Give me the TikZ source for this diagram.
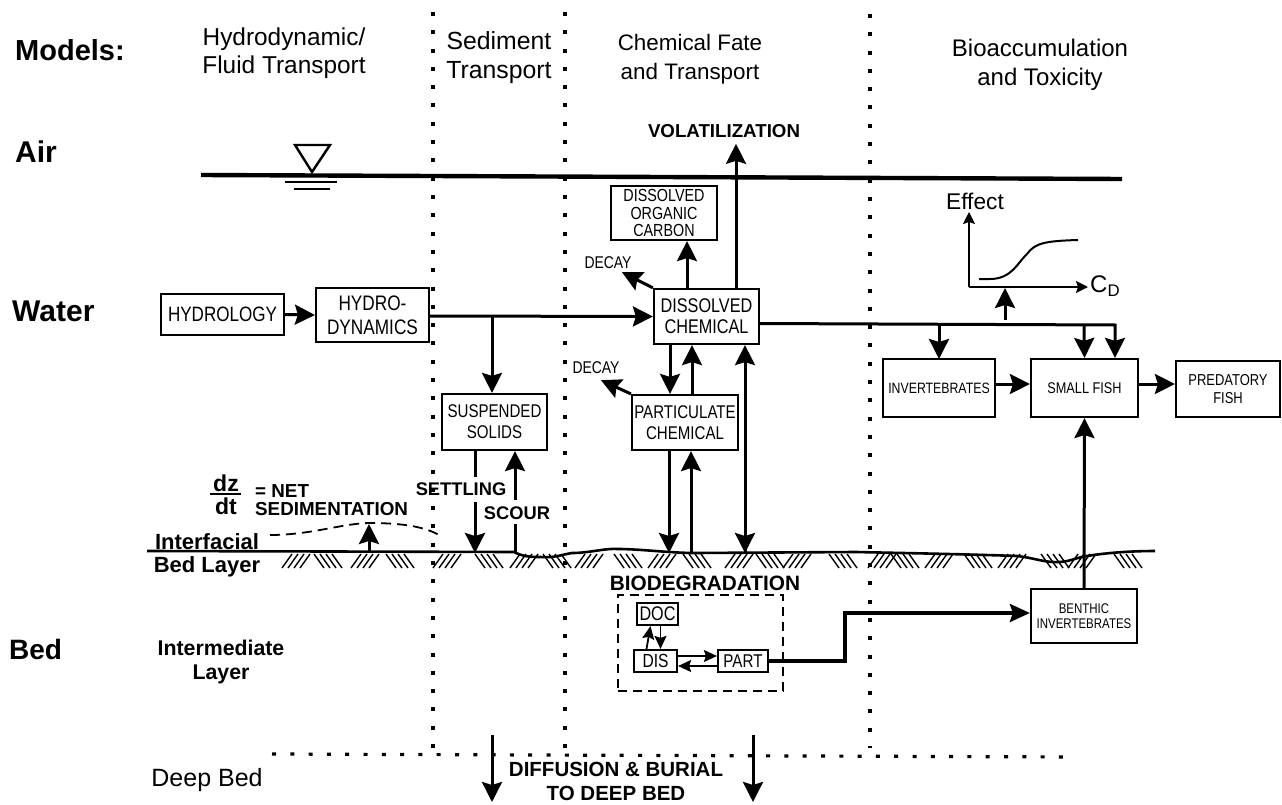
\documentclass[tikz,border=0pt]{standalone}
\usepackage{fontspec}
\setmainfont{Liberation Sans}
\newfontfamily\boxfont[FakeStretch=0.82]{Liberation Sans}
\newcommand{\cf}[2]{\boxfont\fontsize{#1}{#2}\selectfont}
\newcommand{\pf}[2]{\bfseries\fontsize{#1}{#2}\selectfont}
\usetikzlibrary{arrows.meta,calc}
\tikzset{
  box/.style={draw,line width=2.2pt,inner sep=0pt,align=center},
  head/.style={align=center,inner sep=0pt},
  side/.style={inner sep=0pt,anchor=west},
  lab/.style={align=center,inner sep=0pt},
  minilab/.style={font=\cf{17}{18},inner sep=0pt},
  arr/.style={line width=3pt,-{Stealth[length=20pt,width=20pt,inset=3pt]}},
  thinarr/.style={line width=1.8pt,-{Stealth[length=13pt,width=12pt,inset=2pt]}},
  smallarr/.style={line width=2pt,-{Stealth[length=12pt,width=12pt,inset=2pt]}},
  plain/.style={line width=3pt},
  dots/.style={line width=3.2pt,dash pattern=on 4pt off 14.3pt},
  hatch/.style={line width=1.4pt}
}
\begin{document}
\begin{tikzpicture}[x=1pt,y=-1pt]
\useasboundingbox (0,0) rectangle (1282,805);
% zone boundaries
\draw[dots] (433,12) -- (433,752);
\draw[dots] (565,12) -- (565,752);
\draw[dots] (870,14) -- (870,748);
\draw[dots] (272,754) -- (1076,757);
% headers
\node[side,font=\pf{29}{30}] (models) at (15,50) {Models:};
\node[side,font=\pf{30}{30}] (air) at (15,152) {Air};
\node[side,font=\pf{30}{30}] (water) at (12,311) {Water};
\node[side,font=\pf{28}{30}] (bed) at (9,649) {Bed};
\node[head,font=\fontsize{24.4}{28}\selectfont] (h1) at (284,53) {Hydrodynamic/\\Fluid Transport};
\node[head,font=\fontsize{24.8}{29}\selectfont] (h2) at (499,58) {Sediment\\Transport};
\node[head,font=\fontsize{22.4}{29}\selectfont] (h3) at (690,59) {Chemical Fate\\and Transport};
\node[head,font=\fontsize{24}{29}\selectfont] (h4) at (1040,65) {Bioaccumulation\\and Toxicity};
% water surface
\draw[line width=4.4pt] (201,175) -- (1122,179);
\coordinate (wt) at (312,172);
\draw[line width=2.4pt] (295,145) -- (330,145) -- (wt) -- cycle;
\draw[line width=2.6pt] (285,182) -- (337,182);
\draw[line width=2.6pt] (294,189) -- (330,189);
% boxes
\node[box,minimum width=123pt,minimum height=41pt,font=\cf{20.8}{24}] (hydrol) at (222.5,314.5) {HYDROLOGY};
\node[box,minimum width=113pt,minimum height=54pt,font=\cf{21}{24}] (hydrod) at (372.5,315) {HYDRO-\\DYNAMICS};
\node[box,minimum width=105pt,minimum height=56pt,font=\cf{18.4}{21}] (susp) at (494.5,422) {SUSPENDED\\SOLIDS};
\node[box,minimum width=105pt,minimum height=55pt,font=\cf{19.8}{21}] (dc) at (706.5,316.5) {DISSOLVED\\CHEMICAL};
\node[box,minimum width=106pt,minimum height=54pt,font=\cf{17.5}{17.5}] (doc) at (664,213) {DISSOLVED\\ORGANIC\\CARBON};
\node[box,minimum width=106pt,minimum height=55pt,font=\cf{18.4}{21}] (pc) at (685,422.5) {PARTICULATE\\CHEMICAL};
\node[box,minimum width=112pt,minimum height=58pt,font=\cf{15}{18}] (inv) at (939,388) {INVERTEBRATES};
\node[box,minimum width=107pt,minimum height=58pt,font=\cf{15.5}{18}] (sf) at (1084.5,388) {SMALL FISH};
\node[box,minimum width=104pt,minimum height=56pt,font=\cf{15.8}{18}] (pf) at (1228,389) {PREDATORY\\FISH};
\node[box,minimum width=106pt,minimum height=54pt,font=\cf{14}{15}] (ben) at (1084,616) {BENTHIC\\INVERTEBRATES};
\node[draw,line width=1.7pt,dash pattern=on 9pt off 6pt,minimum width=165pt,minimum height=96pt,inner sep=0pt] (bio) at (700.5,643) {};
\node[box,minimum width=41pt,minimum height=22pt,font=\cf{19.7}{20}] (sdoc) at (657.5,614) {DOC};
\node[box,minimum width=43pt,minimum height=22pt,font=\cf{19}{20}] (sdis) at (655.5,661) {DIS};
\node[box,minimum width=50pt,minimum height=22pt,font=\cf{18.5}{20}] (spart) at (743,661) {PART};
% labels
\node[lab,font=\pf{18.7}{20}] (vol) at (724,131) {VOLATILIZATION};
\node[minilab] (dec1) at (608,263) {DECAY};
\node[minilab] (dec2) at (596,368) {DECAY};
\node[lab,font=\pf{18.3}{20}] (sett) at (461,489) {SETTLING};
\node[lab,font=\pf{18.3}{20}] (scour) at (517,513) {SCOUR};
\node[lab,font=\pf{20.8}{24}] (biol) at (705,583) {BIODEGRADATION};
\node[lab,font=\pf{20.5}{24}] (diff) at (616,781) {DIFFUSION \& BURIAL\\TO DEEP BED};
\node[lab,font=\pf{22}{23}] (iface) at (207,555) {Interfacial\\Bed Layer};
\node[lab,font=\pf{21.3}{24}] (imed) at (221,662) {Intermediate\\Layer};
\node[inner sep=0pt,font=\fontsize{25}{26}\selectfont] (deep) at (207,780) {Deep Bed};
\node[lab,font=\pf{23}{24}] (dz) at (226,483) {dz};
\node[lab,font=\pf{23}{24}] (dt) at (226,506) {dt};
\draw[line width=2.8pt] (210,494) -- (241,494);
\node[lab,align=left,anchor=west,font=\pf{18.8}{18}] (net) at (255,500) {= NET\\SEDIMENTATION};
% bed surface
\draw[line width=2.6pt] (147,551) -- (514,552) .. controls (522,556) and (528,557) .. (540,557) .. controls (555,558) and (560,555) .. (572,553) .. controls (590,553) and (605,548) .. (618,549) .. controls (640,549) and (670,553) .. (695,553) -- (856,552) .. controls (900,553) and (960,554) .. (1017,556) .. controls (1035,558) and (1045,563) .. (1060,562) .. controls (1072,561) and (1078,557) .. (1087,556) .. controls (1105,553) and (1130,551) .. (1155,551);
% hatching
\foreach \a in {282,351,433,510,575,648,725,783,868,925,998,1068}
  \foreach \i in {0,6,12,18}
    \draw[hatch] (\a+\i+10,554) -- (\a+\i,568);
\foreach \a in {314,386,475,543,614,683,756,829,891,964,1041,1114}
  \foreach \i in {0,6,12,18}
    \draw[hatch] (\a+\i,554) -- (\a+\i+10,568);
% dashed sediment curve
\draw[line width=1.8pt,dash pattern=on 10pt off 6pt] (270,535) .. controls (310,535) and (340,524) .. (368,523) .. controls (395,523) and (425,525) .. (442,537);
\coordinate (sedtip) at (369,524);
\coordinate (sedbase) at (369,552);
\draw[arr] (sedbase) -- (sedtip);
% connectors
\draw[arr] (hydrol.east) -- (hydrod.west);
\draw[arr] ([yshift=-1pt]hydrod.east) -- (dc.west);
\coordinate (branch) at (492,316);
\draw[arr] (branch) -- (branch |- susp.north);
\coordinate (set1) at (475,477);
\coordinate (set2) at (475,502);
\coordinate (set3) at (475,553);
\draw[plain] (susp.south -| set1) -- (set1);
\draw[arr] (set2) -- (set3);
\coordinate (sc1) at (515,552);
\coordinate (sc2) at (515,524);
\coordinate (sc3) at (515,500);
\draw[plain] (sc1) -- (sc2);
\draw[arr] (sc3) -- (sc3 |- susp.south);
\draw[arr] ([xshift=29.5pt]dc.north) -- ([xshift=12pt,yshift=-6pt]vol.south);
\draw[arr] ([xshift=-19.5pt]dc.north) -- ([xshift=23pt]doc.south);
\draw[arr] (dc.north west) -- ([xshift=14pt,yshift=-3pt]dec1.south);
\draw[arr] (pc.north west) -- ([xshift=5pt,yshift=-6pt]dec2.south);
\draw[arr] ([xshift=-15pt]pc.north |- dc.south) -- ([xshift=-15pt]pc.north);
\draw[arr] ([xshift=7pt]pc.north) -- ([xshift=7pt]pc.north |- dc.south);
\coordinate (g1) at (669,553);
\coordinate (g2) at (691,553);
\coordinate (g3) at (745,553);
\draw[arr] (g1 |- pc.south) -- (g1);
\draw[arr] (g2) -- (g2 |- pc.south);
\draw[arr] (g3) -- (g3 |- dc.south);
\draw[arr] (745,520) -- (g3);
% toxic branch
\coordinate (tr) at (1115,325);
\draw[arr] ([yshift=-7pt]dc.east) -- (tr) -- (tr |- sf.north);
\draw[arr] (939,324) -- (939,359);
\draw[arr] (1084,325) -- (sf.north);
\draw[arr] (inv.east |- 0,384) -- (sf.west |- 0,384);
\draw[arr] (sf.east |- 0,384) -- (pf.west |- 0,384);
\draw[arr] (ben.north) -- (sf.south);
\draw[line width=3.6pt,-{Stealth[length=20pt,width=18pt,inset=3pt]}] (spart.east) -- (845,661) -- (845,613) -- (ben.west |- 0,613);
% biodegradation inner
\draw[thinarr] ([xshift=-9pt]sdis.north) -- ([xshift=-7pt]sdoc.south);
\draw[thinarr] ([xshift=3pt]sdoc.south) -- ([xshift=5pt]sdis.north);
\draw[thinarr] ([yshift=5pt]sdis.east) -- ([yshift=5pt]spart.west);
\draw[thinarr] ([yshift=-5pt]spart.west) -- ([yshift=-5pt]sdis.east);
% deep bed arrows
\coordinate (da1) at (492,735);
\coordinate (da2) at (753,735);
\draw[arr] (da1) -- (492,802);
\draw[arr] (da2) -- (753,802);
% effect graph
\coordinate (o) at (969,287);
\draw[smallarr] (o) -- (969,212);
\draw[smallarr] (o) -- (1088,287);
\draw[line width=2pt] (979,279) -- (990,279) .. controls (1012,279) and (1018,262) .. (1027,254) .. controls (1035,243) and (1045,241) .. (1078,240);
\node[font=\fontsize{22.7}{24}\selectfont,inner sep=0pt] (eff) at (975,201) {Effect};
\node[font=\fontsize{24}{24}\selectfont,inner sep=0pt,anchor=west] (cd) at (1090,286) {C\textsubscript{D}};
\draw[arr] (1005,320) -- (1005,288);
\end{tikzpicture}
\end{document}
